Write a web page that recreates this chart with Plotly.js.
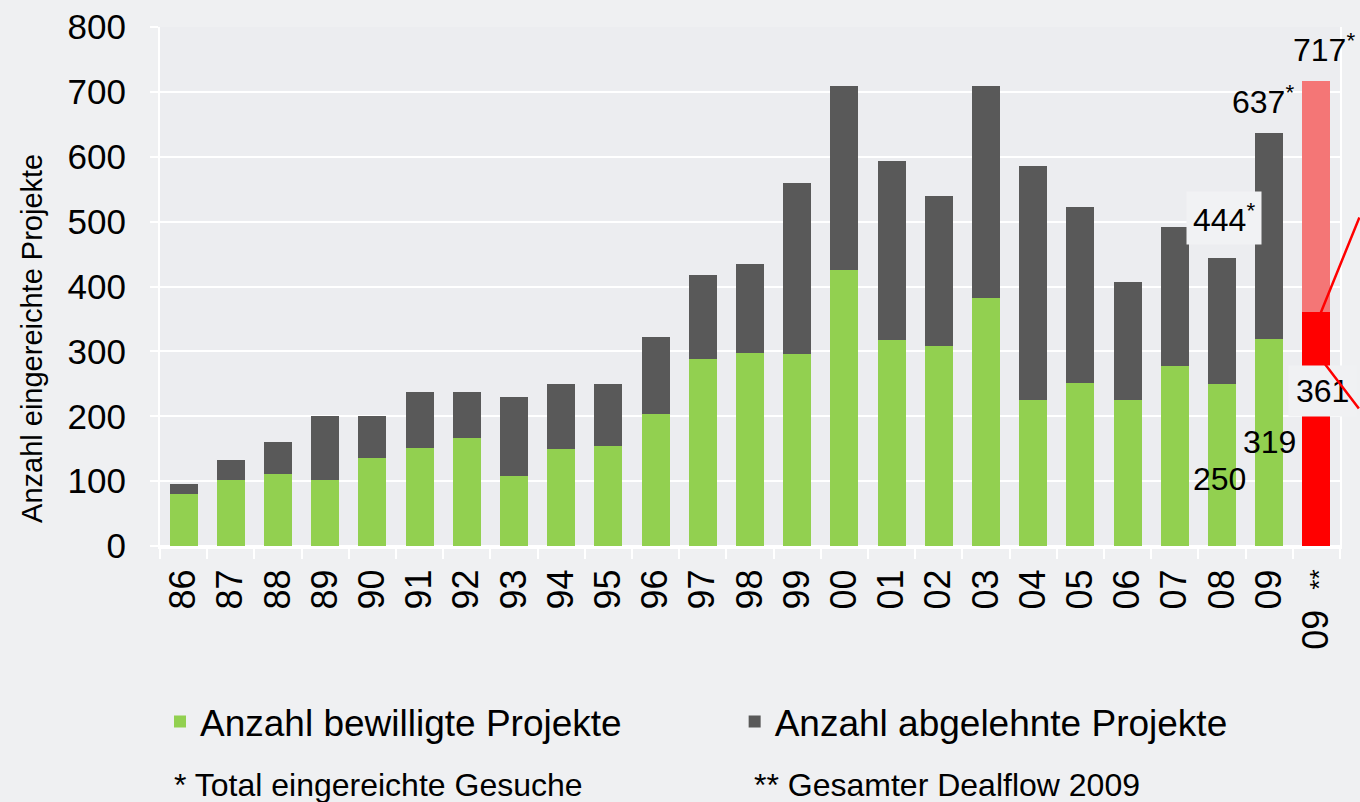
<!DOCTYPE html>
<html>
<head>
<meta charset="utf-8">
<script src="https://cdn.plot.ly/plotly-3.0.1.min.js"></script>
<style>
html,body{margin:0;padding:0;background:#EFF0F2;}
#chart{width:1360px;height:802px;}
</style>
</head>
<body>
<div id="chart"></div>
<script>
// ---- data ----
const categories = ['86','87','88','89','90','91','92','93','94','95','96','97','98','99','00','01','02','03','04','05','06','07','08','09','09 **'];
const tickLabels = ['86','87','88','89','90','91','92','93','94','95','96','97','98','99','00','01','02','03','04','05','06','07','08','09','09&nbsp;&nbsp;<span style="font-size:26px">**</span>'];
const approved = [80,102,111,102,136,151,167,108,150,154,203,289,298,296,425,318,308,383,225,251,225,277,250,319,361];
const rejected = [16,31,50,98,64,86,70,121,100,95,119,128,137,264,284,275,231,326,360,271,182,214,194,318,356];
const approvedColors = ['#92D050','#92D050','#92D050','#92D050','#92D050','#92D050','#92D050','#92D050','#92D050','#92D050','#92D050','#92D050','#92D050','#92D050','#92D050','#92D050','#92D050','#92D050','#92D050','#92D050','#92D050','#92D050','#92D050','#92D050','#FF0000'];
const rejectedColors = ['#595959','#595959','#595959','#595959','#595959','#595959','#595959','#595959','#595959','#595959','#595959','#595959','#595959','#595959','#595959','#595959','#595959','#595959','#595959','#595959','#595959','#595959','#595959','#595959','#F47676'];
const seriesNames = ['Anzahl bewilligte Projekte','Anzahl abgelehnte Projekte'];
const yTitle = 'Anzahl eingereichte Projekte';
const footnotes = ['* Total eingereichte Gesuche','** Gesamter Dealflow 2009'];
const labelText = ['717<sup>*</sup>','637<sup>*</sup>','444<sup>*</sup>','361','319','250'];

const FONT = 'Liberation Sans, Arial, sans-serif';
const LBL = {family:FONT, size:32, color:'#000'};

const traces = [
  {type:'bar', name:seriesNames[0], x:categories, y:approved, legend:'legend',
   marker:{color:approvedColors}, hoverinfo:'x+y'},
  {type:'bar', name:seriesNames[1], x:categories, y:rejected, legend:'legend2',
   marker:{color:rejectedColors}, hoverinfo:'x+y'}
];

const annotations = [
  // totals above bars
  {x:24, y:717, xref:'x', yref:'y', text:labelText[0], showarrow:false, yanchor:'bottom', yshift:11, xshift:8, font:LBL},
  {x:23, y:637, xref:'x', yref:'y', text:labelText[1], showarrow:false, yanchor:'bottom', yshift:11, xshift:-6, font:LBL},
  {x:22, y:506, xref:'x', yref:'y', text:labelText[2], showarrow:false, yanchor:'middle', xshift:2,
   bgcolor:'#F1F2F4', borderpad:6, font:LBL},
  {x:24, y:239, xref:'x', yref:'y', text:labelText[3], showarrow:false, yanchor:'middle', xshift:6,
   bgcolor:'#F0F1F3', borderpad:7, font:LBL},
  {x:23, y:160, xref:'x', yref:'y', text:labelText[4], showarrow:false, yanchor:'middle', xshift:0, font:LBL},
  {x:22, y:103, xref:'x', yref:'y', text:labelText[5], showarrow:false, yanchor:'middle', xshift:-3, font:LBL},
  // red callout lines (drawn as headless arrows, above the label boxes)
  {x:0.9788, y:0.4220, xref:'paper', yref:'paper', text:'', showarrow:true, arrowhead:0, arrowwidth:2.5,
   arrowcolor:'#FF0000', ax:52, ay:-111, axref:'pixel', ayref:'pixel', standoff:0, startstandoff:0},
  {x:0.9788, y:0.3757, xref:'paper', yref:'paper', text:'', showarrow:true, arrowhead:0, arrowwidth:2.5,
   arrowcolor:'#FF0000', ax:52, ay:59, axref:'pixel', ayref:'pixel', standoff:0, startstandoff:0},
  // y-axis title
  {x:-0.108, y:0.40, xref:'paper', yref:'paper', text:yTitle, textangle:-90, showarrow:false,
   xanchor:'center', yanchor:'middle', font:{family:FONT, size:29, color:'#000'}},
  // footnotes
  {x:0.010, y:-0.460, xref:'paper', yref:'paper', text:footnotes[0], showarrow:false,
   xanchor:'left', yanchor:'middle', font:{family:FONT, size:32, color:'#000'}},
  {x:0.502, y:-0.460, xref:'paper', yref:'paper', text:footnotes[1], showarrow:false,
   xanchor:'left', yanchor:'middle', font:{family:FONT, size:32, color:'#000'}}
];

const legendCommon = {orientation:'h', xanchor:'left', y:-0.339, yanchor:'middle',
  font:{family:FONT, size:37, color:'#000'}, bgcolor:'rgba(0,0,0,0)', borderwidth:0};

const layout = {
  width:1360, height:802,
  margin:{l:160, r:20, t:27, b:256, pad:0},
  paper_bgcolor:'#EFF0F2',
  plot_bgcolor:'#ECEDF0',
  barmode:'stack',
  bargap:0.41,
  font:{family:FONT, color:'#000'},
  showlegend:true,
  legend:Object.assign({}, legendCommon, {x:0.0}),
  legend2:Object.assign({}, legendCommon, {x:0.487}),
  xaxis:{type:'category', tickvals:categories, ticktext:tickLabels, tickangle:-90,
    range:[-0.5, 24.5], tickson:'boundaries', ticks:'outside', ticklen:10, tickwidth:2, tickcolor:'#FFFFFF',
    showline:true, linecolor:'#FFFFFF', linewidth:3, showgrid:false, ticklabelstandoff:6,
    tickfont:{family:FONT, size:36, color:'#000'}, fixedrange:true},
  yaxis:{range:[0,800], dtick:100, tick0:0, showgrid:true, gridcolor:'#FFFFFF', gridwidth:2,
    zeroline:true, zerolinecolor:'#FFFFFF', zerolinewidth:2,
    showline:true, mirror:true, linecolor:'#FFFFFF', linewidth:2,
    ticks:'outside', ticklen:8, tickwidth:2, tickcolor:'#FFFFFF', ticklabelstandoff:17,
    tickfont:{family:FONT, size:35, color:'#000'}, fixedrange:true},
  annotations:annotations
};

Plotly.newPlot('chart', traces, layout, {displayModeBar:false, staticPlot:true});
</script>
</body>
</html>
